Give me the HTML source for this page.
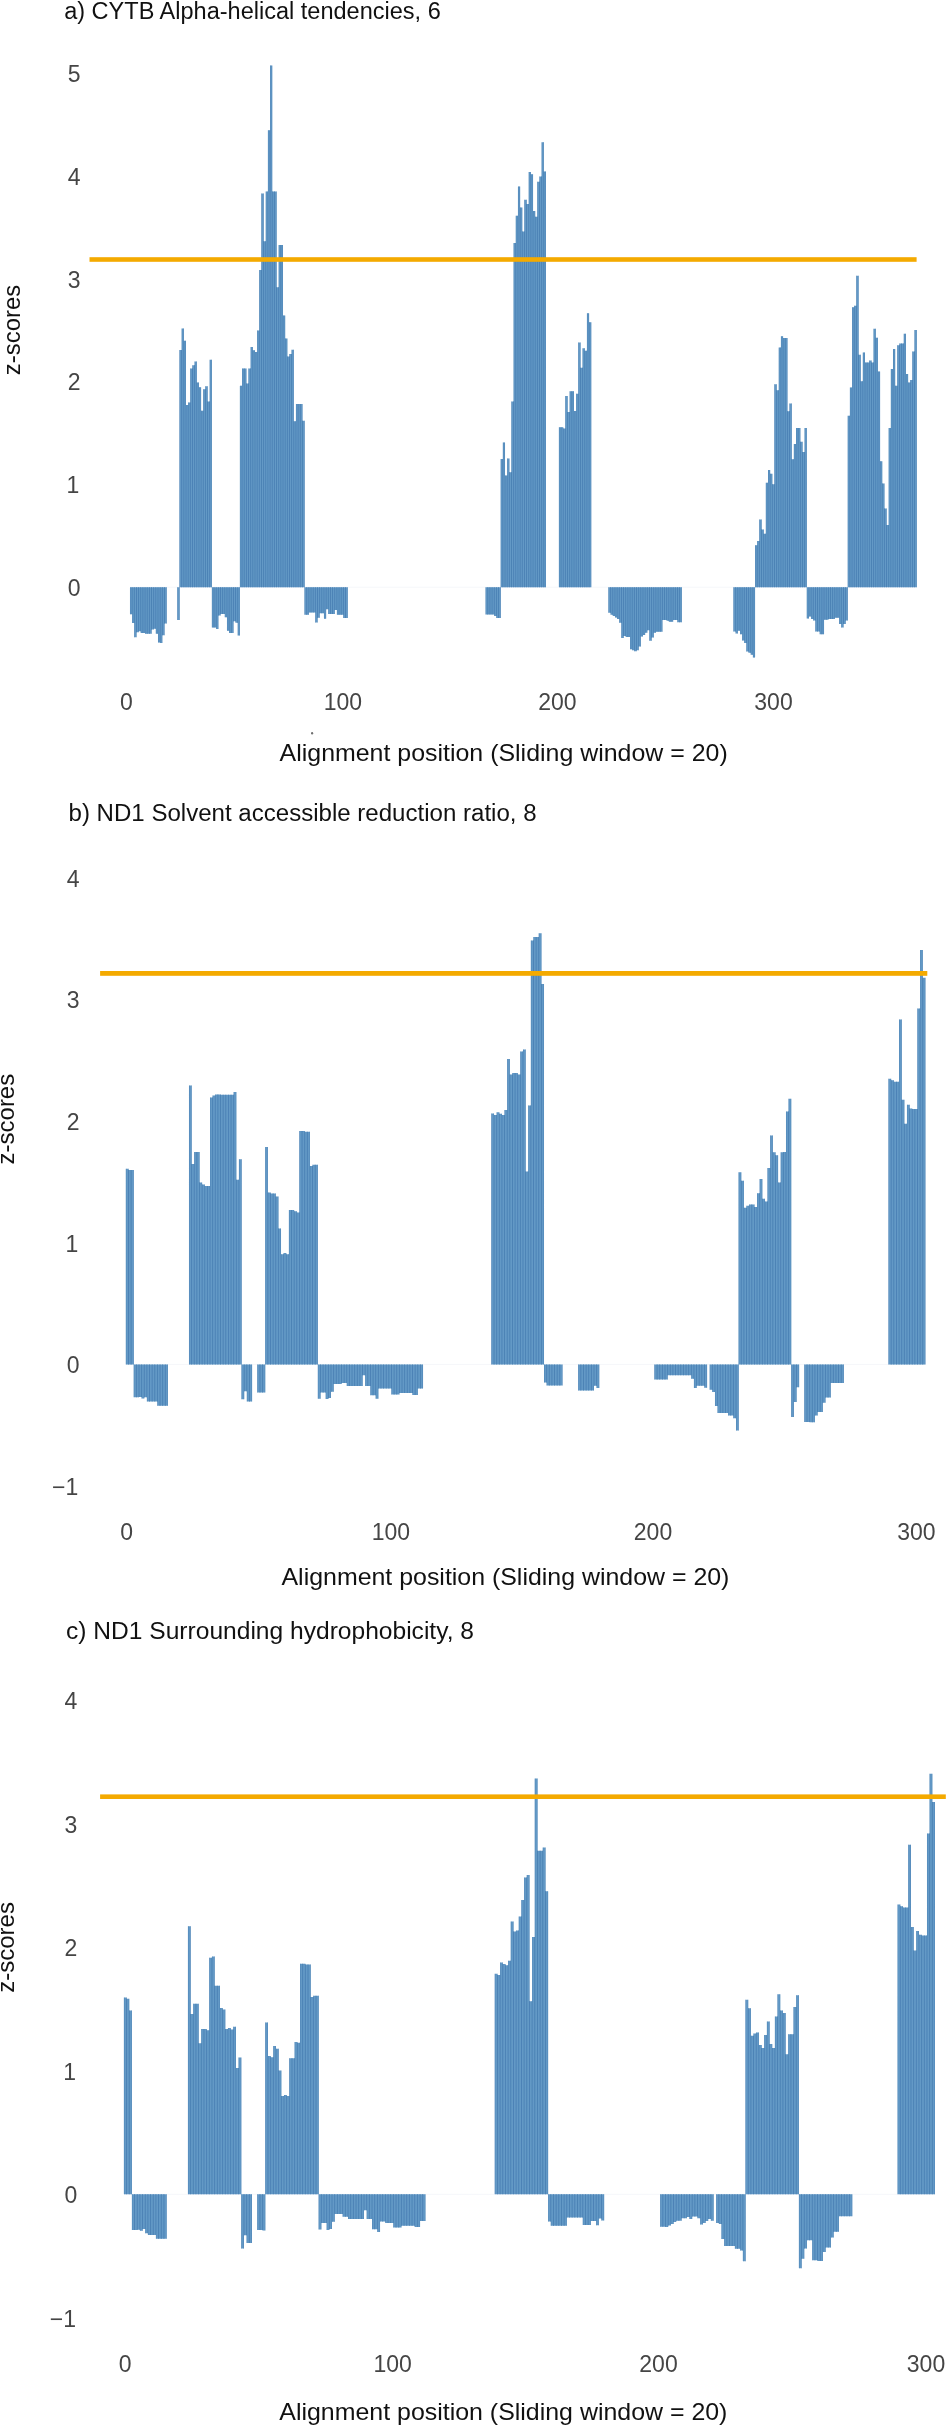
<!DOCTYPE html>
<html><head><meta charset="utf-8"><title>z-score sliding window charts</title>
<style>
html,body{margin:0;padding:0;background:#fff;}
body{width:947px;height:2428px;overflow:hidden;position:relative;}
svg{position:absolute;left:0;top:0;display:block;will-change:transform;}
text{font-family:"Liberation Sans",sans-serif;}
.t{fill:#111;}
.ax{fill:#111;}
.tk{fill:#454545;font-size:23px;}
.bar{fill:#5a90c0;}
</style></head><body>
<svg width="947" height="2428" viewBox="0 0 947 2428">
<defs><clipPath id="pa"><path d="M129.97 587.2V614.3H132.13V623H134.28V637.3H136.44V632.3H138.59V631.3H140.75V633H145.06V633.7H151.53V629.4H153.68V628.7H155.84V633.7H157.99V642.4H160.15V643.1H162.3V635.2H164.46V623.6H166.61V587.2ZM177.39 587.2V620H179.55V587.2ZM179.55 587.2V350H181.7V328.4H183.86V340.7H186.01V404.9H188.17V402.4H190.32V368.6H192.48V365.2H194.63V361.4H196.79V382.5H198.95V387.2H201.1V410.8H203.26V389.3H205.41V386.3H207.57V401.5H209.72V359.7H211.88V587.2ZM211.88 587.2V627.5H216.19V629.1H218.35V615.6H220.5V614.1H224.81V617.2H226.97V630.7H229.12V633.1H233.43V621.2H235.59V622.8H237.75V635.4H239.9V587.2ZM239.9 587.2V385.7H242.06V368.4H246.37V383.6H248.52V368.4H250.68V346.9H252.83V350.2H254.99V352H257.14V330.4H259.3V270H261.46V193.5H263.61V241.2H265.77V191.4H267.92V130.2H270.08V65.6H272.23V191.4H276.54V287.3H278.7V245H283.01V315.6H285.17V338.4H287.32V356.6H289.48V354H291.63V349.8H293.79V421.2H295.94V403.9H302.41V420.8H304.57V587.2ZM304.57 587.2V614.8H308.88V612.5H315.34V622.5H317.5V617.7H319.65V613.3H323.96V618.8H326.12V609.3H328.28V614.1H334.74V610.1H336.9V614.8H343.36V618H347.68V587.2ZM485.63 587.2V614.6H494.25V615.9H496.41V618.1H500.72V587.2ZM500.72 587.2V459H502.87V442.6H505.03V475.5H507.18V458.4H509.34V472.3H511.49V401.4H513.65V243.1H515.8V215.7H517.96V186.5H520.12V207.6H522.27V231.6H524.43V199.8H526.58V203.9H528.74V172.1H530.89V174.3H533.05V210.9H535.2V216.8H537.36V181.7H539.51V176.6H541.67V142.2H543.83V171.4H545.98V587.2ZM558.91 587.2V427.3H563.23V428.6H565.38V395.9H567.54V412.1H569.69V391.2H574V410.9H576.16V393.8H578.31V342.4H580.47V367.8H582.62V348.2H584.78V350.7H586.94V313.3H589.09V322.2H591.25V587.2ZM608.49 587.2V612.7H610.65V614.8H612.8V615.9H614.96V617.5H617.11V619.1H619.27V622.8H621.42V638.1H623.58V636H625.74V637H630.05V649.2H632.2V650.2H634.36V651.3H636.51V650.2H638.67V646.5H640.82V636.5H642.98V634.9H645.13V632.8H647.29V630.2H649.45V640.7H651.6V637.5H653.76V632.8H655.91V631.7H662.38V620.1H666.69V620.7H668.84V621.7H673.16V620.1H677.47V622.2H681.78V587.2ZM733.51 587.2V631.5H735.67V633.5H737.82V630.8H739.98V634.2H742.13V640.4H744.29V643.1H746.44V651.4H748.6V652.8H750.75V654.8H752.91V657.6H755.06V587.2ZM755.06 587.2V545.2H757.22V540.9H759.38V519.4H761.53V529.5H763.69V533.8H765.84V482.7H768V470H770.15V473.8H772.31V484.3H774.46V384.2H776.62V390.3H778.78V347.6H780.93V336.2H783.09V338.1H787.4V411.3H789.55V403.6H791.71V459.3H793.86V444.1H796.02V427.9H800.33V441.7H802.49V452.1H804.64V427.9H806.8V587.2ZM806.8 587.2V618.4H808.95V616.4H811.11V619.1H813.26V620.5H815.42V631.5H819.73V634.2H824.04V619.8H828.35V619.1H834.82V617.7H839.13V623.9H841.28V627.4H843.44V623.9H845.6V620.5H847.75V587.2ZM847.75 587.2V415.8H849.91V387.5H852.06V307.2H854.22V305.8H856.37V275.8H858.53V354.8H860.68V381.2H862.84V352.5H865V362.4H869.31V360.6H871.46V362.4H873.62V328.7H875.77V337.7H877.93V371.4H880.08V461.3H882.24V483.4H884.39V508.4H886.55V525H888.71V428H890.86V369.1H893.02V348.9H895.17V385.7H897.33V345.3H899.48V343.5H903.79V333.7H905.95V374.1H908.11V382.6H910.26V379.9H912.42V351.6H914.57V330.1H916.73V587.2Z"/></clipPath><clipPath id="pb"><path d="M125.85 1364.4V1168.8H128.48V1170H133.74V1364.4ZM133.74 1364.4V1397.2H139V1396.9H141.63V1398.6H144.26V1397.2H146.89V1401.5H157.41V1405.7H167.93V1364.4ZM188.97 1364.4V1085.4H191.6V1164H194.23V1152.1H199.49V1182.6H202.12V1184.6H204.75V1186H210.01V1097.5H212.64V1095.4H215.27V1094.4H220.53V1094.7H231.05V1094.7H233.68V1092H236.31V1179.8H238.94V1159.2H241.57V1364.4ZM241.57 1364.4V1399.3H244.2V1391.3H246.83V1401.5H252.09V1364.4ZM257.35 1364.4V1392.5H265.24V1364.4ZM265.24 1364.4V1147H267.87V1192.6H270.5V1193.5H275.76V1196.4H278.39V1228.5H281.02V1254.3H283.65V1253H286.28V1254.3H288.91V1210H294.17V1211.2H296.8V1212.5H299.43V1131H304.69V1131.8H309.95V1166H312.58V1164.8H317.84V1364.4ZM317.84 1364.4V1398.7H320.47V1392.4H325.73V1399.1H328.36V1398.1H330.99V1391.7H333.62V1383.9H341.51V1383.1H346.77V1386H362.55V1375.3H365.18V1386H370.44V1395.3H375.7V1398.7H378.33V1388.6H391.48V1394.5H399.37V1393H412.52V1394.9H417.78V1388.6H423.04V1364.4ZM491.42 1364.4V1113.4H494.05V1114.9H496.68V1112.3H499.31V1113.7H501.94V1114.9H504.57V1110H507.2V1059H509.83V1074.6H512.46V1073.1H517.72V1074.6H520.35V1051.6H522.98V1049.4H525.61V1171.6H528.24V1105.6H530.87V940.4H533.5V937.1H538.76V933.3H541.39V984.1H544.02V1364.4ZM544.02 1364.4V1382.4H546.65V1385.6H562.43V1364.4ZM578.21 1364.4V1390.6H593.99V1385.8H596.62V1387.9H599.25V1364.4ZM654.48 1364.4V1379.4H667.63V1375.3H691.3V1378.8H693.93V1387.9H696.56V1385.8H704.45V1387.8H707.08V1364.4ZM709.71 1364.4V1389.8H712.34V1391.9H714.97V1406.1H717.6V1413.1H728.12V1415.6H733.38V1418.3H736.01V1430.5H738.64V1364.4ZM738.64 1364.4V1172.2H741.27V1180.7H743.9V1207.7H746.53V1205.8H749.16V1204.4H754.42V1207H757.05V1193.3H759.68V1178.9H762.31V1198.8H764.94V1201.4H767.57V1168.1H770.2V1135.6H772.83V1152.3H775.46V1155.2H778.09V1182.6H780.72V1152.3H783.35V1151.9H785.98V1111.6H788.61V1098.7H791.24V1364.4ZM791.24 1364.4V1417.1H793.87V1401.9H796.5V1387.2H799.13V1364.4ZM804.39 1364.4V1421.9H809.65V1422.3H814.91V1415.6H817.54V1411.9H822.8V1402.7H825.43V1397.5H830.69V1383.1H843.84V1364.4ZM888.55 1364.4V1078.7H891.18V1080.2H893.81V1081.7H899.07V1019.4H901.7V1099.8H904.33V1123.8H906.96V1104.8H909.59V1108.5H912.22V1109.1H917.48V1008.6H920.11V950H922.74V977.8H925.37V1364.4Z"/></clipPath><clipPath id="pc"><path d="M123.91 2194.3V1997.6H126.58V1998.7H129.24V2010.4H131.91V2194.3ZM131.91 2194.3V2230H137.25V2229.8H139.92V2230.8H142.58V2229H145.25V2233.2H147.92V2234.9H155.92V2238.7H166.6V2194.3ZM187.94 2194.3V1926.2H190.61V2014H193.28V2003.8H198.61V2043.3H201.28V2028.9H206.62V2030.3H209.28V1957.8H211.95V1956.5H214.62V1985.7H219.96V2008H222.62V2009.4H225.29V2028.9H227.96V2028H230.63V2029.4H233.3V2026.8H235.96V2068H238.63V2057.6H241.3V2194.3ZM241.3 2194.3V2248.6H243.97V2235.3H246.64V2242.9H251.97V2194.3ZM257.31 2194.3V2230.1H262.64V2230.6H265.31V2194.3ZM265.31 2194.3V2022.4H267.98V2056.1H270.65V2057.2H273.32V2046.1H275.98V2048.7H278.65V2070.5H281.32V2096H283.99V2094.9H286.66V2096H289.32V2058.3H294.66V2042H297.33V2042.8H300V1963.7H305.33V1964.4H310.67V1996.9H313.34V1995.8H318.67V2194.3ZM318.67 2194.3V2229.6H321.34V2223H326.68V2230H329.34V2229.1H332.01V2221.7H334.68V2213.9H342.68V2216.7H348.02V2219H364.03V2210.3H366.7V2219H372.03V2229.3H377.37V2232.1H380.04V2221.5H385.37V2223H393.38V2227.4H401.38V2225.8H414.72V2227.1H420.06V2221.1H425.39V2194.3ZM494.76 2194.3V1973.8H497.43V1975H500.1V1962.4H502.76V1963.9H505.43V1965.2H508.1V1960.8H510.77V1921.5H513.44V1931.5H516.1V1930.5H518.77V1916.5H521.44V1900.1H524.11V1877.5H526.78V1874.9H529.44V2001.2H532.11V1937H534.78V1778.5H537.45V1850.8H542.78V1847.5H545.45V1891.2H548.12V2194.3ZM548.12 2194.3V2221.6H550.79V2225.8H566.8V2217.4H582.8V2225.1H590.81V2221H596.14V2225.3H598.81V2218.4H601.48V2220.5H604.15V2194.3ZM660.18 2194.3V2226.7H665.51V2227H668.18V2225.5H670.85V2224.1H673.52V2222H676.18V2220.7H681.52V2218.3H686.86V2216.9H689.52V2218.9H692.19V2216.6H697.53V2218.3H700.2V2224.4H702.86V2223H705.53V2220.9H708.2V2218.9H710.87V2220.7H713.54V2194.3ZM716.2 2194.3V2223H718.87V2224.1H721.54V2239H724.21V2246.1H734.88V2248.8H740.22V2250.6H742.88V2261.2H745.55V2194.3ZM745.55 2194.3V1999.7H748.22V2008.3H750.89V2035.7H753.56V2033.5H756.22V2032.4H758.89V2045H761.56V2047.9H764.23V2035H766.9V2021.6H769.56V2043.9H772.23V2047.9H774.9V2016.4H777.57V1994.2H780.24V2010.5H782.9V2013.1H785.57V2054.2H788.24V2034.2H793.58V2007.1H796.24V1995.3H798.91V2194.3ZM798.91 2194.3V2268.3H801.58V2258.7H804.25V2248.4H806.92V2240.2H812.25V2260.2H817.59V2260.9H822.92V2252.1H825.59V2247.6H830.93V2237.6H833.6V2231.7H838.93V2216.2H852.27V2194.3ZM897.63 2194.3V1904.6H900.3V1906.3H902.96V1907.4H908.3V1844.7H910.97V1927H913.64V1950.5H916.3V1931.1H918.97V1934.7H921.64V1935.4H926.98V1833.4H929.64V1773.8H932.31V1801.9H934.98V2194.3Z"/></clipPath></defs>
<text class="t" x="64.16" y="19.3" font-size="23.5" textLength="376.59" lengthAdjust="spacingAndGlyphs">a) CYTB Alpha-helical tendencies, 6</text>
<text class="tk" x="80.6" y="595.9" text-anchor="end">0</text>
<text class="tk" x="79.3" y="493.1" text-anchor="end">1</text>
<text class="tk" x="80.6" y="390.3" text-anchor="end">2</text>
<text class="tk" x="80.6" y="287.5" text-anchor="end">3</text>
<text class="tk" x="80.6" y="184.7" text-anchor="end">4</text>
<text class="tk" x="80.6" y="81.9" text-anchor="end">5</text>
<text class="tk" x="126.4" y="709.6" text-anchor="middle">0</text>
<text class="tk" x="342.9" y="709.6" text-anchor="middle">100</text>
<text class="tk" x="557.4" y="709.6" text-anchor="middle">200</text>
<text class="tk" x="773.5" y="709.6" text-anchor="middle">300</text>
<text class="ax" x="279.6" y="760.6" font-size="24" textLength="448.12" lengthAdjust="spacingAndGlyphs">Alignment position (Sliding window = 20)</text>
<text class="ax" font-size="24" transform="translate(20.1 375.16) rotate(-90)" textLength="90.37" lengthAdjust="spacingAndGlyphs">z-scores</text>
<rect x="130" y="586.7" width="786.7" height="1" fill="#f5f7fa"/>
<path fill="#6399c6" d="M129.97 587.2V614.3H132.13V623H134.28V637.3H136.44V632.3H138.59V631.3H140.75V633H145.06V633.7H151.53V629.4H153.68V628.7H155.84V633.7H157.99V642.4H160.15V643.1H162.3V635.2H164.46V623.6H166.61V587.2ZM177.39 587.2V620H179.55V587.2ZM179.55 587.2V350H181.7V328.4H183.86V340.7H186.01V404.9H188.17V402.4H190.32V368.6H192.48V365.2H194.63V361.4H196.79V382.5H198.95V387.2H201.1V410.8H203.26V389.3H205.41V386.3H207.57V401.5H209.72V359.7H211.88V587.2ZM211.88 587.2V627.5H216.19V629.1H218.35V615.6H220.5V614.1H224.81V617.2H226.97V630.7H229.12V633.1H233.43V621.2H235.59V622.8H237.75V635.4H239.9V587.2ZM239.9 587.2V385.7H242.06V368.4H246.37V383.6H248.52V368.4H250.68V346.9H252.83V350.2H254.99V352H257.14V330.4H259.3V270H261.46V193.5H263.61V241.2H265.77V191.4H267.92V130.2H270.08V65.6H272.23V191.4H276.54V287.3H278.7V245H283.01V315.6H285.17V338.4H287.32V356.6H289.48V354H291.63V349.8H293.79V421.2H295.94V403.9H302.41V420.8H304.57V587.2ZM304.57 587.2V614.8H308.88V612.5H315.34V622.5H317.5V617.7H319.65V613.3H323.96V618.8H326.12V609.3H328.28V614.1H334.74V610.1H336.9V614.8H343.36V618H347.68V587.2ZM485.63 587.2V614.6H494.25V615.9H496.41V618.1H500.72V587.2ZM500.72 587.2V459H502.87V442.6H505.03V475.5H507.18V458.4H509.34V472.3H511.49V401.4H513.65V243.1H515.8V215.7H517.96V186.5H520.12V207.6H522.27V231.6H524.43V199.8H526.58V203.9H528.74V172.1H530.89V174.3H533.05V210.9H535.2V216.8H537.36V181.7H539.51V176.6H541.67V142.2H543.83V171.4H545.98V587.2ZM558.91 587.2V427.3H563.23V428.6H565.38V395.9H567.54V412.1H569.69V391.2H574V410.9H576.16V393.8H578.31V342.4H580.47V367.8H582.62V348.2H584.78V350.7H586.94V313.3H589.09V322.2H591.25V587.2ZM608.49 587.2V612.7H610.65V614.8H612.8V615.9H614.96V617.5H617.11V619.1H619.27V622.8H621.42V638.1H623.58V636H625.74V637H630.05V649.2H632.2V650.2H634.36V651.3H636.51V650.2H638.67V646.5H640.82V636.5H642.98V634.9H645.13V632.8H647.29V630.2H649.45V640.7H651.6V637.5H653.76V632.8H655.91V631.7H662.38V620.1H666.69V620.7H668.84V621.7H673.16V620.1H677.47V622.2H681.78V587.2ZM733.51 587.2V631.5H735.67V633.5H737.82V630.8H739.98V634.2H742.13V640.4H744.29V643.1H746.44V651.4H748.6V652.8H750.75V654.8H752.91V657.6H755.06V587.2ZM755.06 587.2V545.2H757.22V540.9H759.38V519.4H761.53V529.5H763.69V533.8H765.84V482.7H768V470H770.15V473.8H772.31V484.3H774.46V384.2H776.62V390.3H778.78V347.6H780.93V336.2H783.09V338.1H787.4V411.3H789.55V403.6H791.71V459.3H793.86V444.1H796.02V427.9H800.33V441.7H802.49V452.1H804.64V427.9H806.8V587.2ZM806.8 587.2V618.4H808.95V616.4H811.11V619.1H813.26V620.5H815.42V631.5H819.73V634.2H824.04V619.8H828.35V619.1H834.82V617.7H839.13V623.9H841.28V627.4H843.44V623.9H845.6V620.5H847.75V587.2ZM847.75 587.2V415.8H849.91V387.5H852.06V307.2H854.22V305.8H856.37V275.8H858.53V354.8H860.68V381.2H862.84V352.5H865V362.4H869.31V360.6H871.46V362.4H873.62V328.7H875.77V337.7H877.93V371.4H880.08V461.3H882.24V483.4H884.39V508.4H886.55V525H888.71V428H890.86V369.1H893.02V348.9H895.17V385.7H897.33V345.3H899.48V343.5H903.79V333.7H905.95V374.1H908.11V382.6H910.26V379.9H912.42V351.6H914.57V330.1H916.73V587.2Z"/>
<path fill="#4a80b4" clip-path="url(#pa)" d="M129.52 63.6h0.9V659.6h-0.9ZM131.68 63.6h0.9V659.6h-0.9ZM133.83 63.6h0.9V659.6h-0.9ZM135.99 63.6h0.9V659.6h-0.9ZM138.14 63.6h0.9V659.6h-0.9ZM140.3 63.6h0.9V659.6h-0.9ZM142.45 63.6h0.9V659.6h-0.9ZM144.61 63.6h0.9V659.6h-0.9ZM146.76 63.6h0.9V659.6h-0.9ZM148.92 63.6h0.9V659.6h-0.9ZM151.08 63.6h0.9V659.6h-0.9ZM153.23 63.6h0.9V659.6h-0.9ZM155.39 63.6h0.9V659.6h-0.9ZM157.54 63.6h0.9V659.6h-0.9ZM159.7 63.6h0.9V659.6h-0.9ZM161.85 63.6h0.9V659.6h-0.9ZM164.01 63.6h0.9V659.6h-0.9ZM166.16 63.6h0.9V659.6h-0.9ZM168.32 63.6h0.9V659.6h-0.9ZM170.47 63.6h0.9V659.6h-0.9ZM172.63 63.6h0.9V659.6h-0.9ZM174.79 63.6h0.9V659.6h-0.9ZM176.94 63.6h0.9V659.6h-0.9ZM179.1 63.6h0.9V659.6h-0.9ZM181.25 63.6h0.9V659.6h-0.9ZM183.41 63.6h0.9V659.6h-0.9ZM185.56 63.6h0.9V659.6h-0.9ZM187.72 63.6h0.9V659.6h-0.9ZM189.87 63.6h0.9V659.6h-0.9ZM192.03 63.6h0.9V659.6h-0.9ZM194.19 63.6h0.9V659.6h-0.9ZM196.34 63.6h0.9V659.6h-0.9ZM198.5 63.6h0.9V659.6h-0.9ZM200.65 63.6h0.9V659.6h-0.9ZM202.81 63.6h0.9V659.6h-0.9ZM204.96 63.6h0.9V659.6h-0.9ZM207.12 63.6h0.9V659.6h-0.9ZM209.27 63.6h0.9V659.6h-0.9ZM211.43 63.6h0.9V659.6h-0.9ZM213.58 63.6h0.9V659.6h-0.9ZM215.74 63.6h0.9V659.6h-0.9ZM217.9 63.6h0.9V659.6h-0.9ZM220.05 63.6h0.9V659.6h-0.9ZM222.21 63.6h0.9V659.6h-0.9ZM224.36 63.6h0.9V659.6h-0.9ZM226.52 63.6h0.9V659.6h-0.9ZM228.67 63.6h0.9V659.6h-0.9ZM230.83 63.6h0.9V659.6h-0.9ZM232.98 63.6h0.9V659.6h-0.9ZM235.14 63.6h0.9V659.6h-0.9ZM237.3 63.6h0.9V659.6h-0.9ZM239.45 63.6h0.9V659.6h-0.9ZM241.61 63.6h0.9V659.6h-0.9ZM243.76 63.6h0.9V659.6h-0.9ZM245.92 63.6h0.9V659.6h-0.9ZM248.07 63.6h0.9V659.6h-0.9ZM250.23 63.6h0.9V659.6h-0.9ZM252.38 63.6h0.9V659.6h-0.9ZM254.54 63.6h0.9V659.6h-0.9ZM256.69 63.6h0.9V659.6h-0.9ZM258.85 63.6h0.9V659.6h-0.9ZM261.01 63.6h0.9V659.6h-0.9ZM263.16 63.6h0.9V659.6h-0.9ZM265.32 63.6h0.9V659.6h-0.9ZM267.47 63.6h0.9V659.6h-0.9ZM269.63 63.6h0.9V659.6h-0.9ZM271.78 63.6h0.9V659.6h-0.9ZM273.94 63.6h0.9V659.6h-0.9ZM276.09 63.6h0.9V659.6h-0.9ZM278.25 63.6h0.9V659.6h-0.9ZM280.41 63.6h0.9V659.6h-0.9ZM282.56 63.6h0.9V659.6h-0.9ZM284.72 63.6h0.9V659.6h-0.9ZM286.87 63.6h0.9V659.6h-0.9ZM289.03 63.6h0.9V659.6h-0.9ZM291.18 63.6h0.9V659.6h-0.9ZM293.34 63.6h0.9V659.6h-0.9ZM295.49 63.6h0.9V659.6h-0.9ZM297.65 63.6h0.9V659.6h-0.9ZM299.8 63.6h0.9V659.6h-0.9ZM301.96 63.6h0.9V659.6h-0.9ZM304.12 63.6h0.9V659.6h-0.9ZM306.27 63.6h0.9V659.6h-0.9ZM308.43 63.6h0.9V659.6h-0.9ZM310.58 63.6h0.9V659.6h-0.9ZM312.74 63.6h0.9V659.6h-0.9ZM314.89 63.6h0.9V659.6h-0.9ZM317.05 63.6h0.9V659.6h-0.9ZM319.2 63.6h0.9V659.6h-0.9ZM321.36 63.6h0.9V659.6h-0.9ZM323.51 63.6h0.9V659.6h-0.9ZM325.67 63.6h0.9V659.6h-0.9ZM327.83 63.6h0.9V659.6h-0.9ZM329.98 63.6h0.9V659.6h-0.9ZM332.14 63.6h0.9V659.6h-0.9ZM334.29 63.6h0.9V659.6h-0.9ZM336.45 63.6h0.9V659.6h-0.9ZM338.6 63.6h0.9V659.6h-0.9ZM340.76 63.6h0.9V659.6h-0.9ZM342.91 63.6h0.9V659.6h-0.9ZM345.07 63.6h0.9V659.6h-0.9ZM347.23 63.6h0.9V659.6h-0.9ZM349.38 63.6h0.9V659.6h-0.9ZM351.54 63.6h0.9V659.6h-0.9ZM353.69 63.6h0.9V659.6h-0.9ZM355.85 63.6h0.9V659.6h-0.9ZM358 63.6h0.9V659.6h-0.9ZM360.16 63.6h0.9V659.6h-0.9ZM362.31 63.6h0.9V659.6h-0.9ZM364.47 63.6h0.9V659.6h-0.9ZM366.62 63.6h0.9V659.6h-0.9ZM368.78 63.6h0.9V659.6h-0.9ZM370.94 63.6h0.9V659.6h-0.9ZM373.09 63.6h0.9V659.6h-0.9ZM375.25 63.6h0.9V659.6h-0.9ZM377.4 63.6h0.9V659.6h-0.9ZM379.56 63.6h0.9V659.6h-0.9ZM381.71 63.6h0.9V659.6h-0.9ZM383.87 63.6h0.9V659.6h-0.9ZM386.02 63.6h0.9V659.6h-0.9ZM388.18 63.6h0.9V659.6h-0.9ZM390.34 63.6h0.9V659.6h-0.9ZM392.49 63.6h0.9V659.6h-0.9ZM394.65 63.6h0.9V659.6h-0.9ZM396.8 63.6h0.9V659.6h-0.9ZM398.96 63.6h0.9V659.6h-0.9ZM401.11 63.6h0.9V659.6h-0.9ZM403.27 63.6h0.9V659.6h-0.9ZM405.42 63.6h0.9V659.6h-0.9ZM407.58 63.6h0.9V659.6h-0.9ZM409.74 63.6h0.9V659.6h-0.9ZM411.89 63.6h0.9V659.6h-0.9ZM414.05 63.6h0.9V659.6h-0.9ZM416.2 63.6h0.9V659.6h-0.9ZM418.36 63.6h0.9V659.6h-0.9ZM420.51 63.6h0.9V659.6h-0.9ZM422.67 63.6h0.9V659.6h-0.9ZM424.82 63.6h0.9V659.6h-0.9ZM426.98 63.6h0.9V659.6h-0.9ZM429.13 63.6h0.9V659.6h-0.9ZM431.29 63.6h0.9V659.6h-0.9ZM433.45 63.6h0.9V659.6h-0.9ZM435.6 63.6h0.9V659.6h-0.9ZM437.76 63.6h0.9V659.6h-0.9ZM439.91 63.6h0.9V659.6h-0.9ZM442.07 63.6h0.9V659.6h-0.9ZM444.22 63.6h0.9V659.6h-0.9ZM446.38 63.6h0.9V659.6h-0.9ZM448.53 63.6h0.9V659.6h-0.9ZM450.69 63.6h0.9V659.6h-0.9ZM452.85 63.6h0.9V659.6h-0.9ZM455 63.6h0.9V659.6h-0.9ZM457.16 63.6h0.9V659.6h-0.9ZM459.31 63.6h0.9V659.6h-0.9ZM461.47 63.6h0.9V659.6h-0.9ZM463.62 63.6h0.9V659.6h-0.9ZM465.78 63.6h0.9V659.6h-0.9ZM467.93 63.6h0.9V659.6h-0.9ZM470.09 63.6h0.9V659.6h-0.9ZM472.24 63.6h0.9V659.6h-0.9ZM474.4 63.6h0.9V659.6h-0.9ZM476.56 63.6h0.9V659.6h-0.9ZM478.71 63.6h0.9V659.6h-0.9ZM480.87 63.6h0.9V659.6h-0.9ZM483.02 63.6h0.9V659.6h-0.9ZM485.18 63.6h0.9V659.6h-0.9ZM487.33 63.6h0.9V659.6h-0.9ZM489.49 63.6h0.9V659.6h-0.9ZM491.64 63.6h0.9V659.6h-0.9ZM493.8 63.6h0.9V659.6h-0.9ZM495.96 63.6h0.9V659.6h-0.9ZM498.11 63.6h0.9V659.6h-0.9ZM500.27 63.6h0.9V659.6h-0.9ZM502.42 63.6h0.9V659.6h-0.9ZM504.58 63.6h0.9V659.6h-0.9ZM506.73 63.6h0.9V659.6h-0.9ZM508.89 63.6h0.9V659.6h-0.9ZM511.04 63.6h0.9V659.6h-0.9ZM513.2 63.6h0.9V659.6h-0.9ZM515.35 63.6h0.9V659.6h-0.9ZM517.51 63.6h0.9V659.6h-0.9ZM519.67 63.6h0.9V659.6h-0.9ZM521.82 63.6h0.9V659.6h-0.9ZM523.98 63.6h0.9V659.6h-0.9ZM526.13 63.6h0.9V659.6h-0.9ZM528.29 63.6h0.9V659.6h-0.9ZM530.44 63.6h0.9V659.6h-0.9ZM532.6 63.6h0.9V659.6h-0.9ZM534.75 63.6h0.9V659.6h-0.9ZM536.91 63.6h0.9V659.6h-0.9ZM539.06 63.6h0.9V659.6h-0.9ZM541.22 63.6h0.9V659.6h-0.9ZM543.38 63.6h0.9V659.6h-0.9ZM545.53 63.6h0.9V659.6h-0.9ZM547.69 63.6h0.9V659.6h-0.9ZM549.84 63.6h0.9V659.6h-0.9ZM552 63.6h0.9V659.6h-0.9ZM554.15 63.6h0.9V659.6h-0.9ZM556.31 63.6h0.9V659.6h-0.9ZM558.46 63.6h0.9V659.6h-0.9ZM560.62 63.6h0.9V659.6h-0.9ZM562.78 63.6h0.9V659.6h-0.9ZM564.93 63.6h0.9V659.6h-0.9ZM567.09 63.6h0.9V659.6h-0.9ZM569.24 63.6h0.9V659.6h-0.9ZM571.4 63.6h0.9V659.6h-0.9ZM573.55 63.6h0.9V659.6h-0.9ZM575.71 63.6h0.9V659.6h-0.9ZM577.86 63.6h0.9V659.6h-0.9ZM580.02 63.6h0.9V659.6h-0.9ZM582.17 63.6h0.9V659.6h-0.9ZM584.33 63.6h0.9V659.6h-0.9ZM586.49 63.6h0.9V659.6h-0.9ZM588.64 63.6h0.9V659.6h-0.9ZM590.8 63.6h0.9V659.6h-0.9ZM592.95 63.6h0.9V659.6h-0.9ZM595.11 63.6h0.9V659.6h-0.9ZM597.26 63.6h0.9V659.6h-0.9ZM599.42 63.6h0.9V659.6h-0.9ZM601.57 63.6h0.9V659.6h-0.9ZM603.73 63.6h0.9V659.6h-0.9ZM605.89 63.6h0.9V659.6h-0.9ZM608.04 63.6h0.9V659.6h-0.9ZM610.2 63.6h0.9V659.6h-0.9ZM612.35 63.6h0.9V659.6h-0.9ZM614.51 63.6h0.9V659.6h-0.9ZM616.66 63.6h0.9V659.6h-0.9ZM618.82 63.6h0.9V659.6h-0.9ZM620.97 63.6h0.9V659.6h-0.9ZM623.13 63.6h0.9V659.6h-0.9ZM625.28 63.6h0.9V659.6h-0.9ZM627.44 63.6h0.9V659.6h-0.9ZM629.6 63.6h0.9V659.6h-0.9ZM631.75 63.6h0.9V659.6h-0.9ZM633.91 63.6h0.9V659.6h-0.9ZM636.06 63.6h0.9V659.6h-0.9ZM638.22 63.6h0.9V659.6h-0.9ZM640.37 63.6h0.9V659.6h-0.9ZM642.53 63.6h0.9V659.6h-0.9ZM644.68 63.6h0.9V659.6h-0.9ZM646.84 63.6h0.9V659.6h-0.9ZM649 63.6h0.9V659.6h-0.9ZM651.15 63.6h0.9V659.6h-0.9ZM653.31 63.6h0.9V659.6h-0.9ZM655.46 63.6h0.9V659.6h-0.9ZM657.62 63.6h0.9V659.6h-0.9ZM659.77 63.6h0.9V659.6h-0.9ZM661.93 63.6h0.9V659.6h-0.9ZM664.08 63.6h0.9V659.6h-0.9ZM666.24 63.6h0.9V659.6h-0.9ZM668.39 63.6h0.9V659.6h-0.9ZM670.55 63.6h0.9V659.6h-0.9ZM672.71 63.6h0.9V659.6h-0.9ZM674.86 63.6h0.9V659.6h-0.9ZM677.02 63.6h0.9V659.6h-0.9ZM679.17 63.6h0.9V659.6h-0.9ZM681.33 63.6h0.9V659.6h-0.9ZM683.48 63.6h0.9V659.6h-0.9ZM685.64 63.6h0.9V659.6h-0.9ZM687.79 63.6h0.9V659.6h-0.9ZM689.95 63.6h0.9V659.6h-0.9ZM692.11 63.6h0.9V659.6h-0.9ZM694.26 63.6h0.9V659.6h-0.9ZM696.42 63.6h0.9V659.6h-0.9ZM698.57 63.6h0.9V659.6h-0.9ZM700.73 63.6h0.9V659.6h-0.9ZM702.88 63.6h0.9V659.6h-0.9ZM705.04 63.6h0.9V659.6h-0.9ZM707.19 63.6h0.9V659.6h-0.9ZM709.35 63.6h0.9V659.6h-0.9ZM711.5 63.6h0.9V659.6h-0.9ZM713.66 63.6h0.9V659.6h-0.9ZM715.82 63.6h0.9V659.6h-0.9ZM717.97 63.6h0.9V659.6h-0.9ZM720.13 63.6h0.9V659.6h-0.9ZM722.28 63.6h0.9V659.6h-0.9ZM724.44 63.6h0.9V659.6h-0.9ZM726.59 63.6h0.9V659.6h-0.9ZM728.75 63.6h0.9V659.6h-0.9ZM730.9 63.6h0.9V659.6h-0.9ZM733.06 63.6h0.9V659.6h-0.9ZM735.22 63.6h0.9V659.6h-0.9ZM737.37 63.6h0.9V659.6h-0.9ZM739.53 63.6h0.9V659.6h-0.9ZM741.68 63.6h0.9V659.6h-0.9ZM743.84 63.6h0.9V659.6h-0.9ZM745.99 63.6h0.9V659.6h-0.9ZM748.15 63.6h0.9V659.6h-0.9ZM750.3 63.6h0.9V659.6h-0.9ZM752.46 63.6h0.9V659.6h-0.9ZM754.61 63.6h0.9V659.6h-0.9ZM756.77 63.6h0.9V659.6h-0.9ZM758.93 63.6h0.9V659.6h-0.9ZM761.08 63.6h0.9V659.6h-0.9ZM763.24 63.6h0.9V659.6h-0.9ZM765.39 63.6h0.9V659.6h-0.9ZM767.55 63.6h0.9V659.6h-0.9ZM769.7 63.6h0.9V659.6h-0.9ZM771.86 63.6h0.9V659.6h-0.9ZM774.01 63.6h0.9V659.6h-0.9ZM776.17 63.6h0.9V659.6h-0.9ZM778.33 63.6h0.9V659.6h-0.9ZM780.48 63.6h0.9V659.6h-0.9ZM782.64 63.6h0.9V659.6h-0.9ZM784.79 63.6h0.9V659.6h-0.9ZM786.95 63.6h0.9V659.6h-0.9ZM789.1 63.6h0.9V659.6h-0.9ZM791.26 63.6h0.9V659.6h-0.9ZM793.41 63.6h0.9V659.6h-0.9ZM795.57 63.6h0.9V659.6h-0.9ZM797.72 63.6h0.9V659.6h-0.9ZM799.88 63.6h0.9V659.6h-0.9ZM802.04 63.6h0.9V659.6h-0.9ZM804.19 63.6h0.9V659.6h-0.9ZM806.35 63.6h0.9V659.6h-0.9ZM808.5 63.6h0.9V659.6h-0.9ZM810.66 63.6h0.9V659.6h-0.9ZM812.81 63.6h0.9V659.6h-0.9ZM814.97 63.6h0.9V659.6h-0.9ZM817.12 63.6h0.9V659.6h-0.9ZM819.28 63.6h0.9V659.6h-0.9ZM821.44 63.6h0.9V659.6h-0.9ZM823.59 63.6h0.9V659.6h-0.9ZM825.75 63.6h0.9V659.6h-0.9ZM827.9 63.6h0.9V659.6h-0.9ZM830.06 63.6h0.9V659.6h-0.9ZM832.21 63.6h0.9V659.6h-0.9ZM834.37 63.6h0.9V659.6h-0.9ZM836.52 63.6h0.9V659.6h-0.9ZM838.68 63.6h0.9V659.6h-0.9ZM840.83 63.6h0.9V659.6h-0.9ZM842.99 63.6h0.9V659.6h-0.9ZM845.15 63.6h0.9V659.6h-0.9ZM847.3 63.6h0.9V659.6h-0.9ZM849.46 63.6h0.9V659.6h-0.9ZM851.61 63.6h0.9V659.6h-0.9ZM853.77 63.6h0.9V659.6h-0.9ZM855.92 63.6h0.9V659.6h-0.9ZM858.08 63.6h0.9V659.6h-0.9ZM860.23 63.6h0.9V659.6h-0.9ZM862.39 63.6h0.9V659.6h-0.9ZM864.55 63.6h0.9V659.6h-0.9ZM866.7 63.6h0.9V659.6h-0.9ZM868.86 63.6h0.9V659.6h-0.9ZM871.01 63.6h0.9V659.6h-0.9ZM873.17 63.6h0.9V659.6h-0.9ZM875.32 63.6h0.9V659.6h-0.9ZM877.48 63.6h0.9V659.6h-0.9ZM879.63 63.6h0.9V659.6h-0.9ZM881.79 63.6h0.9V659.6h-0.9ZM883.94 63.6h0.9V659.6h-0.9ZM886.1 63.6h0.9V659.6h-0.9ZM888.26 63.6h0.9V659.6h-0.9ZM890.41 63.6h0.9V659.6h-0.9ZM892.57 63.6h0.9V659.6h-0.9ZM894.72 63.6h0.9V659.6h-0.9ZM896.88 63.6h0.9V659.6h-0.9ZM899.03 63.6h0.9V659.6h-0.9ZM901.19 63.6h0.9V659.6h-0.9ZM903.34 63.6h0.9V659.6h-0.9ZM905.5 63.6h0.9V659.6h-0.9ZM907.66 63.6h0.9V659.6h-0.9ZM909.81 63.6h0.9V659.6h-0.9ZM911.97 63.6h0.9V659.6h-0.9ZM914.12 63.6h0.9V659.6h-0.9ZM916.28 63.6h0.9V659.6h-0.9Z"/>
<rect x="89.5" y="257.2" width="827.1" height="4.6" fill="#f4aa00"/>
<text class="t" x="68.51" y="821.2" font-size="23.5" textLength="468.06" lengthAdjust="spacingAndGlyphs">b) ND1 Solvent accessible reduction ratio, 8</text>
<text class="tk" x="78.2" y="1494.65" text-anchor="end">−1</text>
<text class="tk" x="79.5" y="1373.1" text-anchor="end">0</text>
<text class="tk" x="78.2" y="1251.55" text-anchor="end">1</text>
<text class="tk" x="79.5" y="1130" text-anchor="end">2</text>
<text class="tk" x="79.5" y="1008.45" text-anchor="end">3</text>
<text class="tk" x="79.5" y="886.9" text-anchor="end">4</text>
<text class="tk" x="126.7" y="1539.6" text-anchor="middle">0</text>
<text class="tk" x="390.9" y="1539.6" text-anchor="middle">100</text>
<text class="tk" x="653" y="1539.6" text-anchor="middle">200</text>
<text class="tk" x="916.4" y="1539.6" text-anchor="middle">300</text>
<text class="ax" x="281.5" y="1585.2" font-size="24" textLength="447.92" lengthAdjust="spacingAndGlyphs">Alignment position (Sliding window = 20)</text>
<text class="ax" font-size="24" transform="translate(14.3 1164.46) rotate(-90)" textLength="90.68" lengthAdjust="spacingAndGlyphs">z-scores</text>
<rect x="126.3" y="1363.9" width="798.9" height="1" fill="#f5f7fa"/>
<path fill="#6399c6" d="M125.85 1364.4V1168.8H128.48V1170H133.74V1364.4ZM133.74 1364.4V1397.2H139V1396.9H141.63V1398.6H144.26V1397.2H146.89V1401.5H157.41V1405.7H167.93V1364.4ZM188.97 1364.4V1085.4H191.6V1164H194.23V1152.1H199.49V1182.6H202.12V1184.6H204.75V1186H210.01V1097.5H212.64V1095.4H215.27V1094.4H220.53V1094.7H231.05V1094.7H233.68V1092H236.31V1179.8H238.94V1159.2H241.57V1364.4ZM241.57 1364.4V1399.3H244.2V1391.3H246.83V1401.5H252.09V1364.4ZM257.35 1364.4V1392.5H265.24V1364.4ZM265.24 1364.4V1147H267.87V1192.6H270.5V1193.5H275.76V1196.4H278.39V1228.5H281.02V1254.3H283.65V1253H286.28V1254.3H288.91V1210H294.17V1211.2H296.8V1212.5H299.43V1131H304.69V1131.8H309.95V1166H312.58V1164.8H317.84V1364.4ZM317.84 1364.4V1398.7H320.47V1392.4H325.73V1399.1H328.36V1398.1H330.99V1391.7H333.62V1383.9H341.51V1383.1H346.77V1386H362.55V1375.3H365.18V1386H370.44V1395.3H375.7V1398.7H378.33V1388.6H391.48V1394.5H399.37V1393H412.52V1394.9H417.78V1388.6H423.04V1364.4ZM491.42 1364.4V1113.4H494.05V1114.9H496.68V1112.3H499.31V1113.7H501.94V1114.9H504.57V1110H507.2V1059H509.83V1074.6H512.46V1073.1H517.72V1074.6H520.35V1051.6H522.98V1049.4H525.61V1171.6H528.24V1105.6H530.87V940.4H533.5V937.1H538.76V933.3H541.39V984.1H544.02V1364.4ZM544.02 1364.4V1382.4H546.65V1385.6H562.43V1364.4ZM578.21 1364.4V1390.6H593.99V1385.8H596.62V1387.9H599.25V1364.4ZM654.48 1364.4V1379.4H667.63V1375.3H691.3V1378.8H693.93V1387.9H696.56V1385.8H704.45V1387.8H707.08V1364.4ZM709.71 1364.4V1389.8H712.34V1391.9H714.97V1406.1H717.6V1413.1H728.12V1415.6H733.38V1418.3H736.01V1430.5H738.64V1364.4ZM738.64 1364.4V1172.2H741.27V1180.7H743.9V1207.7H746.53V1205.8H749.16V1204.4H754.42V1207H757.05V1193.3H759.68V1178.9H762.31V1198.8H764.94V1201.4H767.57V1168.1H770.2V1135.6H772.83V1152.3H775.46V1155.2H778.09V1182.6H780.72V1152.3H783.35V1151.9H785.98V1111.6H788.61V1098.7H791.24V1364.4ZM791.24 1364.4V1417.1H793.87V1401.9H796.5V1387.2H799.13V1364.4ZM804.39 1364.4V1421.9H809.65V1422.3H814.91V1415.6H817.54V1411.9H822.8V1402.7H825.43V1397.5H830.69V1383.1H843.84V1364.4ZM888.55 1364.4V1078.7H891.18V1080.2H893.81V1081.7H899.07V1019.4H901.7V1099.8H904.33V1123.8H906.96V1104.8H909.59V1108.5H912.22V1109.1H917.48V1008.6H920.11V950H922.74V977.8H925.37V1364.4Z"/>
<path fill="#4a80b4" clip-path="url(#pb)" d="M125.4 931.3h0.9V1432.5h-0.9ZM128.03 931.3h0.9V1432.5h-0.9ZM130.66 931.3h0.9V1432.5h-0.9ZM133.29 931.3h0.9V1432.5h-0.9ZM135.92 931.3h0.9V1432.5h-0.9ZM138.55 931.3h0.9V1432.5h-0.9ZM141.18 931.3h0.9V1432.5h-0.9ZM143.81 931.3h0.9V1432.5h-0.9ZM146.44 931.3h0.9V1432.5h-0.9ZM149.07 931.3h0.9V1432.5h-0.9ZM151.7 931.3h0.9V1432.5h-0.9ZM154.33 931.3h0.9V1432.5h-0.9ZM156.96 931.3h0.9V1432.5h-0.9ZM159.59 931.3h0.9V1432.5h-0.9ZM162.22 931.3h0.9V1432.5h-0.9ZM164.85 931.3h0.9V1432.5h-0.9ZM167.48 931.3h0.9V1432.5h-0.9ZM170.11 931.3h0.9V1432.5h-0.9ZM172.74 931.3h0.9V1432.5h-0.9ZM175.37 931.3h0.9V1432.5h-0.9ZM178 931.3h0.9V1432.5h-0.9ZM180.63 931.3h0.9V1432.5h-0.9ZM183.26 931.3h0.9V1432.5h-0.9ZM185.89 931.3h0.9V1432.5h-0.9ZM188.52 931.3h0.9V1432.5h-0.9ZM191.15 931.3h0.9V1432.5h-0.9ZM193.78 931.3h0.9V1432.5h-0.9ZM196.41 931.3h0.9V1432.5h-0.9ZM199.04 931.3h0.9V1432.5h-0.9ZM201.67 931.3h0.9V1432.5h-0.9ZM204.3 931.3h0.9V1432.5h-0.9ZM206.93 931.3h0.9V1432.5h-0.9ZM209.56 931.3h0.9V1432.5h-0.9ZM212.19 931.3h0.9V1432.5h-0.9ZM214.82 931.3h0.9V1432.5h-0.9ZM217.45 931.3h0.9V1432.5h-0.9ZM220.08 931.3h0.9V1432.5h-0.9ZM222.71 931.3h0.9V1432.5h-0.9ZM225.34 931.3h0.9V1432.5h-0.9ZM227.97 931.3h0.9V1432.5h-0.9ZM230.6 931.3h0.9V1432.5h-0.9ZM233.23 931.3h0.9V1432.5h-0.9ZM235.86 931.3h0.9V1432.5h-0.9ZM238.49 931.3h0.9V1432.5h-0.9ZM241.12 931.3h0.9V1432.5h-0.9ZM243.75 931.3h0.9V1432.5h-0.9ZM246.38 931.3h0.9V1432.5h-0.9ZM249.01 931.3h0.9V1432.5h-0.9ZM251.64 931.3h0.9V1432.5h-0.9ZM254.27 931.3h0.9V1432.5h-0.9ZM256.9 931.3h0.9V1432.5h-0.9ZM259.53 931.3h0.9V1432.5h-0.9ZM262.16 931.3h0.9V1432.5h-0.9ZM264.79 931.3h0.9V1432.5h-0.9ZM267.42 931.3h0.9V1432.5h-0.9ZM270.05 931.3h0.9V1432.5h-0.9ZM272.68 931.3h0.9V1432.5h-0.9ZM275.31 931.3h0.9V1432.5h-0.9ZM277.94 931.3h0.9V1432.5h-0.9ZM280.57 931.3h0.9V1432.5h-0.9ZM283.2 931.3h0.9V1432.5h-0.9ZM285.83 931.3h0.9V1432.5h-0.9ZM288.46 931.3h0.9V1432.5h-0.9ZM291.09 931.3h0.9V1432.5h-0.9ZM293.72 931.3h0.9V1432.5h-0.9ZM296.35 931.3h0.9V1432.5h-0.9ZM298.98 931.3h0.9V1432.5h-0.9ZM301.61 931.3h0.9V1432.5h-0.9ZM304.24 931.3h0.9V1432.5h-0.9ZM306.87 931.3h0.9V1432.5h-0.9ZM309.5 931.3h0.9V1432.5h-0.9ZM312.13 931.3h0.9V1432.5h-0.9ZM314.76 931.3h0.9V1432.5h-0.9ZM317.39 931.3h0.9V1432.5h-0.9ZM320.02 931.3h0.9V1432.5h-0.9ZM322.65 931.3h0.9V1432.5h-0.9ZM325.28 931.3h0.9V1432.5h-0.9ZM327.91 931.3h0.9V1432.5h-0.9ZM330.54 931.3h0.9V1432.5h-0.9ZM333.17 931.3h0.9V1432.5h-0.9ZM335.8 931.3h0.9V1432.5h-0.9ZM338.43 931.3h0.9V1432.5h-0.9ZM341.06 931.3h0.9V1432.5h-0.9ZM343.69 931.3h0.9V1432.5h-0.9ZM346.32 931.3h0.9V1432.5h-0.9ZM348.95 931.3h0.9V1432.5h-0.9ZM351.58 931.3h0.9V1432.5h-0.9ZM354.21 931.3h0.9V1432.5h-0.9ZM356.84 931.3h0.9V1432.5h-0.9ZM359.47 931.3h0.9V1432.5h-0.9ZM362.1 931.3h0.9V1432.5h-0.9ZM364.73 931.3h0.9V1432.5h-0.9ZM367.36 931.3h0.9V1432.5h-0.9ZM369.99 931.3h0.9V1432.5h-0.9ZM372.62 931.3h0.9V1432.5h-0.9ZM375.25 931.3h0.9V1432.5h-0.9ZM377.88 931.3h0.9V1432.5h-0.9ZM380.51 931.3h0.9V1432.5h-0.9ZM383.14 931.3h0.9V1432.5h-0.9ZM385.77 931.3h0.9V1432.5h-0.9ZM388.4 931.3h0.9V1432.5h-0.9ZM391.03 931.3h0.9V1432.5h-0.9ZM393.66 931.3h0.9V1432.5h-0.9ZM396.29 931.3h0.9V1432.5h-0.9ZM398.92 931.3h0.9V1432.5h-0.9ZM401.55 931.3h0.9V1432.5h-0.9ZM404.18 931.3h0.9V1432.5h-0.9ZM406.81 931.3h0.9V1432.5h-0.9ZM409.44 931.3h0.9V1432.5h-0.9ZM412.07 931.3h0.9V1432.5h-0.9ZM414.7 931.3h0.9V1432.5h-0.9ZM417.33 931.3h0.9V1432.5h-0.9ZM419.96 931.3h0.9V1432.5h-0.9ZM422.59 931.3h0.9V1432.5h-0.9ZM425.22 931.3h0.9V1432.5h-0.9ZM427.85 931.3h0.9V1432.5h-0.9ZM430.48 931.3h0.9V1432.5h-0.9ZM433.11 931.3h0.9V1432.5h-0.9ZM435.74 931.3h0.9V1432.5h-0.9ZM438.37 931.3h0.9V1432.5h-0.9ZM441 931.3h0.9V1432.5h-0.9ZM443.63 931.3h0.9V1432.5h-0.9ZM446.26 931.3h0.9V1432.5h-0.9ZM448.89 931.3h0.9V1432.5h-0.9ZM451.52 931.3h0.9V1432.5h-0.9ZM454.15 931.3h0.9V1432.5h-0.9ZM456.78 931.3h0.9V1432.5h-0.9ZM459.41 931.3h0.9V1432.5h-0.9ZM462.04 931.3h0.9V1432.5h-0.9ZM464.67 931.3h0.9V1432.5h-0.9ZM467.3 931.3h0.9V1432.5h-0.9ZM469.93 931.3h0.9V1432.5h-0.9ZM472.56 931.3h0.9V1432.5h-0.9ZM475.19 931.3h0.9V1432.5h-0.9ZM477.82 931.3h0.9V1432.5h-0.9ZM480.45 931.3h0.9V1432.5h-0.9ZM483.08 931.3h0.9V1432.5h-0.9ZM485.71 931.3h0.9V1432.5h-0.9ZM488.34 931.3h0.9V1432.5h-0.9ZM490.97 931.3h0.9V1432.5h-0.9ZM493.6 931.3h0.9V1432.5h-0.9ZM496.23 931.3h0.9V1432.5h-0.9ZM498.86 931.3h0.9V1432.5h-0.9ZM501.49 931.3h0.9V1432.5h-0.9ZM504.12 931.3h0.9V1432.5h-0.9ZM506.75 931.3h0.9V1432.5h-0.9ZM509.38 931.3h0.9V1432.5h-0.9ZM512.01 931.3h0.9V1432.5h-0.9ZM514.64 931.3h0.9V1432.5h-0.9ZM517.27 931.3h0.9V1432.5h-0.9ZM519.9 931.3h0.9V1432.5h-0.9ZM522.53 931.3h0.9V1432.5h-0.9ZM525.16 931.3h0.9V1432.5h-0.9ZM527.79 931.3h0.9V1432.5h-0.9ZM530.42 931.3h0.9V1432.5h-0.9ZM533.05 931.3h0.9V1432.5h-0.9ZM535.68 931.3h0.9V1432.5h-0.9ZM538.31 931.3h0.9V1432.5h-0.9ZM540.94 931.3h0.9V1432.5h-0.9ZM543.57 931.3h0.9V1432.5h-0.9ZM546.2 931.3h0.9V1432.5h-0.9ZM548.83 931.3h0.9V1432.5h-0.9ZM551.46 931.3h0.9V1432.5h-0.9ZM554.09 931.3h0.9V1432.5h-0.9ZM556.72 931.3h0.9V1432.5h-0.9ZM559.35 931.3h0.9V1432.5h-0.9ZM561.98 931.3h0.9V1432.5h-0.9ZM564.61 931.3h0.9V1432.5h-0.9ZM567.24 931.3h0.9V1432.5h-0.9ZM569.87 931.3h0.9V1432.5h-0.9ZM572.5 931.3h0.9V1432.5h-0.9ZM575.13 931.3h0.9V1432.5h-0.9ZM577.76 931.3h0.9V1432.5h-0.9ZM580.39 931.3h0.9V1432.5h-0.9ZM583.02 931.3h0.9V1432.5h-0.9ZM585.65 931.3h0.9V1432.5h-0.9ZM588.28 931.3h0.9V1432.5h-0.9ZM590.91 931.3h0.9V1432.5h-0.9ZM593.54 931.3h0.9V1432.5h-0.9ZM596.17 931.3h0.9V1432.5h-0.9ZM598.8 931.3h0.9V1432.5h-0.9ZM601.43 931.3h0.9V1432.5h-0.9ZM604.06 931.3h0.9V1432.5h-0.9ZM606.69 931.3h0.9V1432.5h-0.9ZM609.32 931.3h0.9V1432.5h-0.9ZM611.95 931.3h0.9V1432.5h-0.9ZM614.58 931.3h0.9V1432.5h-0.9ZM617.21 931.3h0.9V1432.5h-0.9ZM619.84 931.3h0.9V1432.5h-0.9ZM622.47 931.3h0.9V1432.5h-0.9ZM625.1 931.3h0.9V1432.5h-0.9ZM627.73 931.3h0.9V1432.5h-0.9ZM630.36 931.3h0.9V1432.5h-0.9ZM632.99 931.3h0.9V1432.5h-0.9ZM635.62 931.3h0.9V1432.5h-0.9ZM638.25 931.3h0.9V1432.5h-0.9ZM640.88 931.3h0.9V1432.5h-0.9ZM643.51 931.3h0.9V1432.5h-0.9ZM646.14 931.3h0.9V1432.5h-0.9ZM648.77 931.3h0.9V1432.5h-0.9ZM651.4 931.3h0.9V1432.5h-0.9ZM654.03 931.3h0.9V1432.5h-0.9ZM656.66 931.3h0.9V1432.5h-0.9ZM659.29 931.3h0.9V1432.5h-0.9ZM661.92 931.3h0.9V1432.5h-0.9ZM664.55 931.3h0.9V1432.5h-0.9ZM667.18 931.3h0.9V1432.5h-0.9ZM669.81 931.3h0.9V1432.5h-0.9ZM672.44 931.3h0.9V1432.5h-0.9ZM675.07 931.3h0.9V1432.5h-0.9ZM677.7 931.3h0.9V1432.5h-0.9ZM680.33 931.3h0.9V1432.5h-0.9ZM682.96 931.3h0.9V1432.5h-0.9ZM685.59 931.3h0.9V1432.5h-0.9ZM688.22 931.3h0.9V1432.5h-0.9ZM690.85 931.3h0.9V1432.5h-0.9ZM693.48 931.3h0.9V1432.5h-0.9ZM696.11 931.3h0.9V1432.5h-0.9ZM698.74 931.3h0.9V1432.5h-0.9ZM701.37 931.3h0.9V1432.5h-0.9ZM704 931.3h0.9V1432.5h-0.9ZM706.63 931.3h0.9V1432.5h-0.9ZM709.26 931.3h0.9V1432.5h-0.9ZM711.89 931.3h0.9V1432.5h-0.9ZM714.52 931.3h0.9V1432.5h-0.9ZM717.15 931.3h0.9V1432.5h-0.9ZM719.78 931.3h0.9V1432.5h-0.9ZM722.41 931.3h0.9V1432.5h-0.9ZM725.04 931.3h0.9V1432.5h-0.9ZM727.67 931.3h0.9V1432.5h-0.9ZM730.3 931.3h0.9V1432.5h-0.9ZM732.93 931.3h0.9V1432.5h-0.9ZM735.56 931.3h0.9V1432.5h-0.9ZM738.19 931.3h0.9V1432.5h-0.9ZM740.82 931.3h0.9V1432.5h-0.9ZM743.45 931.3h0.9V1432.5h-0.9ZM746.08 931.3h0.9V1432.5h-0.9ZM748.71 931.3h0.9V1432.5h-0.9ZM751.34 931.3h0.9V1432.5h-0.9ZM753.97 931.3h0.9V1432.5h-0.9ZM756.6 931.3h0.9V1432.5h-0.9ZM759.23 931.3h0.9V1432.5h-0.9ZM761.86 931.3h0.9V1432.5h-0.9ZM764.49 931.3h0.9V1432.5h-0.9ZM767.12 931.3h0.9V1432.5h-0.9ZM769.75 931.3h0.9V1432.5h-0.9ZM772.38 931.3h0.9V1432.5h-0.9ZM775.01 931.3h0.9V1432.5h-0.9ZM777.64 931.3h0.9V1432.5h-0.9ZM780.27 931.3h0.9V1432.5h-0.9ZM782.9 931.3h0.9V1432.5h-0.9ZM785.53 931.3h0.9V1432.5h-0.9ZM788.16 931.3h0.9V1432.5h-0.9ZM790.79 931.3h0.9V1432.5h-0.9ZM793.42 931.3h0.9V1432.5h-0.9ZM796.05 931.3h0.9V1432.5h-0.9ZM798.68 931.3h0.9V1432.5h-0.9ZM801.31 931.3h0.9V1432.5h-0.9ZM803.94 931.3h0.9V1432.5h-0.9ZM806.57 931.3h0.9V1432.5h-0.9ZM809.2 931.3h0.9V1432.5h-0.9ZM811.83 931.3h0.9V1432.5h-0.9ZM814.46 931.3h0.9V1432.5h-0.9ZM817.09 931.3h0.9V1432.5h-0.9ZM819.72 931.3h0.9V1432.5h-0.9ZM822.35 931.3h0.9V1432.5h-0.9ZM824.98 931.3h0.9V1432.5h-0.9ZM827.61 931.3h0.9V1432.5h-0.9ZM830.24 931.3h0.9V1432.5h-0.9ZM832.87 931.3h0.9V1432.5h-0.9ZM835.5 931.3h0.9V1432.5h-0.9ZM838.13 931.3h0.9V1432.5h-0.9ZM840.76 931.3h0.9V1432.5h-0.9ZM843.39 931.3h0.9V1432.5h-0.9ZM846.02 931.3h0.9V1432.5h-0.9ZM848.65 931.3h0.9V1432.5h-0.9ZM851.28 931.3h0.9V1432.5h-0.9ZM853.91 931.3h0.9V1432.5h-0.9ZM856.54 931.3h0.9V1432.5h-0.9ZM859.17 931.3h0.9V1432.5h-0.9ZM861.8 931.3h0.9V1432.5h-0.9ZM864.43 931.3h0.9V1432.5h-0.9ZM867.06 931.3h0.9V1432.5h-0.9ZM869.69 931.3h0.9V1432.5h-0.9ZM872.32 931.3h0.9V1432.5h-0.9ZM874.95 931.3h0.9V1432.5h-0.9ZM877.58 931.3h0.9V1432.5h-0.9ZM880.21 931.3h0.9V1432.5h-0.9ZM882.84 931.3h0.9V1432.5h-0.9ZM885.47 931.3h0.9V1432.5h-0.9ZM888.1 931.3h0.9V1432.5h-0.9ZM890.73 931.3h0.9V1432.5h-0.9ZM893.36 931.3h0.9V1432.5h-0.9ZM895.99 931.3h0.9V1432.5h-0.9ZM898.62 931.3h0.9V1432.5h-0.9ZM901.25 931.3h0.9V1432.5h-0.9ZM903.88 931.3h0.9V1432.5h-0.9ZM906.51 931.3h0.9V1432.5h-0.9ZM909.14 931.3h0.9V1432.5h-0.9ZM911.77 931.3h0.9V1432.5h-0.9ZM914.4 931.3h0.9V1432.5h-0.9ZM917.03 931.3h0.9V1432.5h-0.9ZM919.66 931.3h0.9V1432.5h-0.9ZM922.29 931.3h0.9V1432.5h-0.9ZM924.92 931.3h0.9V1432.5h-0.9Z"/>
<rect x="100.1" y="971" width="827.2" height="4.8" fill="#f4aa00"/>
<text class="t" x="66.02" y="1639.1" font-size="23.5" textLength="407.97" lengthAdjust="spacingAndGlyphs">c) ND1 Surrounding hydrophobicity, 8</text>
<text class="tk" x="76" y="2326.5" text-anchor="end">−1</text>
<text class="tk" x="77.3" y="2203" text-anchor="end">0</text>
<text class="tk" x="76" y="2079.5" text-anchor="end">1</text>
<text class="tk" x="77.3" y="1956" text-anchor="end">2</text>
<text class="tk" x="77.3" y="1832.5" text-anchor="end">3</text>
<text class="tk" x="77.3" y="1709" text-anchor="end">4</text>
<text class="tk" x="125.1" y="2372.2" text-anchor="middle">0</text>
<text class="tk" x="392.7" y="2372.2" text-anchor="middle">100</text>
<text class="tk" x="658.5" y="2372.2" text-anchor="middle">200</text>
<text class="tk" x="926" y="2372.2" text-anchor="middle">300</text>
<text class="ax" x="279.3" y="2420" font-size="24" textLength="448.12" lengthAdjust="spacingAndGlyphs">Alignment position (Sliding window = 20)</text>
<text class="ax" font-size="24" transform="translate(14.3 1992.86) rotate(-90)" textLength="90.88" lengthAdjust="spacingAndGlyphs">z-scores</text>
<rect x="124.2" y="2193.8" width="810.7" height="1" fill="#f5f7fa"/>
<path fill="#6399c6" d="M123.91 2194.3V1997.6H126.58V1998.7H129.24V2010.4H131.91V2194.3ZM131.91 2194.3V2230H137.25V2229.8H139.92V2230.8H142.58V2229H145.25V2233.2H147.92V2234.9H155.92V2238.7H166.6V2194.3ZM187.94 2194.3V1926.2H190.61V2014H193.28V2003.8H198.61V2043.3H201.28V2028.9H206.62V2030.3H209.28V1957.8H211.95V1956.5H214.62V1985.7H219.96V2008H222.62V2009.4H225.29V2028.9H227.96V2028H230.63V2029.4H233.3V2026.8H235.96V2068H238.63V2057.6H241.3V2194.3ZM241.3 2194.3V2248.6H243.97V2235.3H246.64V2242.9H251.97V2194.3ZM257.31 2194.3V2230.1H262.64V2230.6H265.31V2194.3ZM265.31 2194.3V2022.4H267.98V2056.1H270.65V2057.2H273.32V2046.1H275.98V2048.7H278.65V2070.5H281.32V2096H283.99V2094.9H286.66V2096H289.32V2058.3H294.66V2042H297.33V2042.8H300V1963.7H305.33V1964.4H310.67V1996.9H313.34V1995.8H318.67V2194.3ZM318.67 2194.3V2229.6H321.34V2223H326.68V2230H329.34V2229.1H332.01V2221.7H334.68V2213.9H342.68V2216.7H348.02V2219H364.03V2210.3H366.7V2219H372.03V2229.3H377.37V2232.1H380.04V2221.5H385.37V2223H393.38V2227.4H401.38V2225.8H414.72V2227.1H420.06V2221.1H425.39V2194.3ZM494.76 2194.3V1973.8H497.43V1975H500.1V1962.4H502.76V1963.9H505.43V1965.2H508.1V1960.8H510.77V1921.5H513.44V1931.5H516.1V1930.5H518.77V1916.5H521.44V1900.1H524.11V1877.5H526.78V1874.9H529.44V2001.2H532.11V1937H534.78V1778.5H537.45V1850.8H542.78V1847.5H545.45V1891.2H548.12V2194.3ZM548.12 2194.3V2221.6H550.79V2225.8H566.8V2217.4H582.8V2225.1H590.81V2221H596.14V2225.3H598.81V2218.4H601.48V2220.5H604.15V2194.3ZM660.18 2194.3V2226.7H665.51V2227H668.18V2225.5H670.85V2224.1H673.52V2222H676.18V2220.7H681.52V2218.3H686.86V2216.9H689.52V2218.9H692.19V2216.6H697.53V2218.3H700.2V2224.4H702.86V2223H705.53V2220.9H708.2V2218.9H710.87V2220.7H713.54V2194.3ZM716.2 2194.3V2223H718.87V2224.1H721.54V2239H724.21V2246.1H734.88V2248.8H740.22V2250.6H742.88V2261.2H745.55V2194.3ZM745.55 2194.3V1999.7H748.22V2008.3H750.89V2035.7H753.56V2033.5H756.22V2032.4H758.89V2045H761.56V2047.9H764.23V2035H766.9V2021.6H769.56V2043.9H772.23V2047.9H774.9V2016.4H777.57V1994.2H780.24V2010.5H782.9V2013.1H785.57V2054.2H788.24V2034.2H793.58V2007.1H796.24V1995.3H798.91V2194.3ZM798.91 2194.3V2268.3H801.58V2258.7H804.25V2248.4H806.92V2240.2H812.25V2260.2H817.59V2260.9H822.92V2252.1H825.59V2247.6H830.93V2237.6H833.6V2231.7H838.93V2216.2H852.27V2194.3ZM897.63 2194.3V1904.6H900.3V1906.3H902.96V1907.4H908.3V1844.7H910.97V1927H913.64V1950.5H916.3V1931.1H918.97V1934.7H921.64V1935.4H926.98V1833.4H929.64V1773.8H932.31V1801.9H934.98V2194.3Z"/>
<path fill="#4a80b4" clip-path="url(#pc)" d="M123.46 1771.8h0.9V2270.3h-0.9ZM126.13 1771.8h0.9V2270.3h-0.9ZM128.79 1771.8h0.9V2270.3h-0.9ZM131.46 1771.8h0.9V2270.3h-0.9ZM134.13 1771.8h0.9V2270.3h-0.9ZM136.8 1771.8h0.9V2270.3h-0.9ZM139.47 1771.8h0.9V2270.3h-0.9ZM142.13 1771.8h0.9V2270.3h-0.9ZM144.8 1771.8h0.9V2270.3h-0.9ZM147.47 1771.8h0.9V2270.3h-0.9ZM150.14 1771.8h0.9V2270.3h-0.9ZM152.81 1771.8h0.9V2270.3h-0.9ZM155.47 1771.8h0.9V2270.3h-0.9ZM158.14 1771.8h0.9V2270.3h-0.9ZM160.81 1771.8h0.9V2270.3h-0.9ZM163.48 1771.8h0.9V2270.3h-0.9ZM166.15 1771.8h0.9V2270.3h-0.9ZM168.81 1771.8h0.9V2270.3h-0.9ZM171.48 1771.8h0.9V2270.3h-0.9ZM174.15 1771.8h0.9V2270.3h-0.9ZM176.82 1771.8h0.9V2270.3h-0.9ZM179.49 1771.8h0.9V2270.3h-0.9ZM182.15 1771.8h0.9V2270.3h-0.9ZM184.82 1771.8h0.9V2270.3h-0.9ZM187.49 1771.8h0.9V2270.3h-0.9ZM190.16 1771.8h0.9V2270.3h-0.9ZM192.83 1771.8h0.9V2270.3h-0.9ZM195.49 1771.8h0.9V2270.3h-0.9ZM198.16 1771.8h0.9V2270.3h-0.9ZM200.83 1771.8h0.9V2270.3h-0.9ZM203.5 1771.8h0.9V2270.3h-0.9ZM206.17 1771.8h0.9V2270.3h-0.9ZM208.83 1771.8h0.9V2270.3h-0.9ZM211.5 1771.8h0.9V2270.3h-0.9ZM214.17 1771.8h0.9V2270.3h-0.9ZM216.84 1771.8h0.9V2270.3h-0.9ZM219.51 1771.8h0.9V2270.3h-0.9ZM222.17 1771.8h0.9V2270.3h-0.9ZM224.84 1771.8h0.9V2270.3h-0.9ZM227.51 1771.8h0.9V2270.3h-0.9ZM230.18 1771.8h0.9V2270.3h-0.9ZM232.85 1771.8h0.9V2270.3h-0.9ZM235.51 1771.8h0.9V2270.3h-0.9ZM238.18 1771.8h0.9V2270.3h-0.9ZM240.85 1771.8h0.9V2270.3h-0.9ZM243.52 1771.8h0.9V2270.3h-0.9ZM246.19 1771.8h0.9V2270.3h-0.9ZM248.85 1771.8h0.9V2270.3h-0.9ZM251.52 1771.8h0.9V2270.3h-0.9ZM254.19 1771.8h0.9V2270.3h-0.9ZM256.86 1771.8h0.9V2270.3h-0.9ZM259.53 1771.8h0.9V2270.3h-0.9ZM262.19 1771.8h0.9V2270.3h-0.9ZM264.86 1771.8h0.9V2270.3h-0.9ZM267.53 1771.8h0.9V2270.3h-0.9ZM270.2 1771.8h0.9V2270.3h-0.9ZM272.87 1771.8h0.9V2270.3h-0.9ZM275.53 1771.8h0.9V2270.3h-0.9ZM278.2 1771.8h0.9V2270.3h-0.9ZM280.87 1771.8h0.9V2270.3h-0.9ZM283.54 1771.8h0.9V2270.3h-0.9ZM286.21 1771.8h0.9V2270.3h-0.9ZM288.87 1771.8h0.9V2270.3h-0.9ZM291.54 1771.8h0.9V2270.3h-0.9ZM294.21 1771.8h0.9V2270.3h-0.9ZM296.88 1771.8h0.9V2270.3h-0.9ZM299.55 1771.8h0.9V2270.3h-0.9ZM302.21 1771.8h0.9V2270.3h-0.9ZM304.88 1771.8h0.9V2270.3h-0.9ZM307.55 1771.8h0.9V2270.3h-0.9ZM310.22 1771.8h0.9V2270.3h-0.9ZM312.89 1771.8h0.9V2270.3h-0.9ZM315.55 1771.8h0.9V2270.3h-0.9ZM318.22 1771.8h0.9V2270.3h-0.9ZM320.89 1771.8h0.9V2270.3h-0.9ZM323.56 1771.8h0.9V2270.3h-0.9ZM326.23 1771.8h0.9V2270.3h-0.9ZM328.89 1771.8h0.9V2270.3h-0.9ZM331.56 1771.8h0.9V2270.3h-0.9ZM334.23 1771.8h0.9V2270.3h-0.9ZM336.9 1771.8h0.9V2270.3h-0.9ZM339.57 1771.8h0.9V2270.3h-0.9ZM342.23 1771.8h0.9V2270.3h-0.9ZM344.9 1771.8h0.9V2270.3h-0.9ZM347.57 1771.8h0.9V2270.3h-0.9ZM350.24 1771.8h0.9V2270.3h-0.9ZM352.91 1771.8h0.9V2270.3h-0.9ZM355.57 1771.8h0.9V2270.3h-0.9ZM358.24 1771.8h0.9V2270.3h-0.9ZM360.91 1771.8h0.9V2270.3h-0.9ZM363.58 1771.8h0.9V2270.3h-0.9ZM366.25 1771.8h0.9V2270.3h-0.9ZM368.91 1771.8h0.9V2270.3h-0.9ZM371.58 1771.8h0.9V2270.3h-0.9ZM374.25 1771.8h0.9V2270.3h-0.9ZM376.92 1771.8h0.9V2270.3h-0.9ZM379.59 1771.8h0.9V2270.3h-0.9ZM382.25 1771.8h0.9V2270.3h-0.9ZM384.92 1771.8h0.9V2270.3h-0.9ZM387.59 1771.8h0.9V2270.3h-0.9ZM390.26 1771.8h0.9V2270.3h-0.9ZM392.93 1771.8h0.9V2270.3h-0.9ZM395.59 1771.8h0.9V2270.3h-0.9ZM398.26 1771.8h0.9V2270.3h-0.9ZM400.93 1771.8h0.9V2270.3h-0.9ZM403.6 1771.8h0.9V2270.3h-0.9ZM406.27 1771.8h0.9V2270.3h-0.9ZM408.93 1771.8h0.9V2270.3h-0.9ZM411.6 1771.8h0.9V2270.3h-0.9ZM414.27 1771.8h0.9V2270.3h-0.9ZM416.94 1771.8h0.9V2270.3h-0.9ZM419.61 1771.8h0.9V2270.3h-0.9ZM422.27 1771.8h0.9V2270.3h-0.9ZM424.94 1771.8h0.9V2270.3h-0.9ZM427.61 1771.8h0.9V2270.3h-0.9ZM430.28 1771.8h0.9V2270.3h-0.9ZM432.95 1771.8h0.9V2270.3h-0.9ZM435.61 1771.8h0.9V2270.3h-0.9ZM438.28 1771.8h0.9V2270.3h-0.9ZM440.95 1771.8h0.9V2270.3h-0.9ZM443.62 1771.8h0.9V2270.3h-0.9ZM446.29 1771.8h0.9V2270.3h-0.9ZM448.95 1771.8h0.9V2270.3h-0.9ZM451.62 1771.8h0.9V2270.3h-0.9ZM454.29 1771.8h0.9V2270.3h-0.9ZM456.96 1771.8h0.9V2270.3h-0.9ZM459.63 1771.8h0.9V2270.3h-0.9ZM462.29 1771.8h0.9V2270.3h-0.9ZM464.96 1771.8h0.9V2270.3h-0.9ZM467.63 1771.8h0.9V2270.3h-0.9ZM470.3 1771.8h0.9V2270.3h-0.9ZM472.97 1771.8h0.9V2270.3h-0.9ZM475.63 1771.8h0.9V2270.3h-0.9ZM478.3 1771.8h0.9V2270.3h-0.9ZM480.97 1771.8h0.9V2270.3h-0.9ZM483.64 1771.8h0.9V2270.3h-0.9ZM486.31 1771.8h0.9V2270.3h-0.9ZM488.97 1771.8h0.9V2270.3h-0.9ZM491.64 1771.8h0.9V2270.3h-0.9ZM494.31 1771.8h0.9V2270.3h-0.9ZM496.98 1771.8h0.9V2270.3h-0.9ZM499.65 1771.8h0.9V2270.3h-0.9ZM502.31 1771.8h0.9V2270.3h-0.9ZM504.98 1771.8h0.9V2270.3h-0.9ZM507.65 1771.8h0.9V2270.3h-0.9ZM510.32 1771.8h0.9V2270.3h-0.9ZM512.99 1771.8h0.9V2270.3h-0.9ZM515.65 1771.8h0.9V2270.3h-0.9ZM518.32 1771.8h0.9V2270.3h-0.9ZM520.99 1771.8h0.9V2270.3h-0.9ZM523.66 1771.8h0.9V2270.3h-0.9ZM526.33 1771.8h0.9V2270.3h-0.9ZM528.99 1771.8h0.9V2270.3h-0.9ZM531.66 1771.8h0.9V2270.3h-0.9ZM534.33 1771.8h0.9V2270.3h-0.9ZM537 1771.8h0.9V2270.3h-0.9ZM539.67 1771.8h0.9V2270.3h-0.9ZM542.33 1771.8h0.9V2270.3h-0.9ZM545 1771.8h0.9V2270.3h-0.9ZM547.67 1771.8h0.9V2270.3h-0.9ZM550.34 1771.8h0.9V2270.3h-0.9ZM553.01 1771.8h0.9V2270.3h-0.9ZM555.67 1771.8h0.9V2270.3h-0.9ZM558.34 1771.8h0.9V2270.3h-0.9ZM561.01 1771.8h0.9V2270.3h-0.9ZM563.68 1771.8h0.9V2270.3h-0.9ZM566.35 1771.8h0.9V2270.3h-0.9ZM569.01 1771.8h0.9V2270.3h-0.9ZM571.68 1771.8h0.9V2270.3h-0.9ZM574.35 1771.8h0.9V2270.3h-0.9ZM577.02 1771.8h0.9V2270.3h-0.9ZM579.69 1771.8h0.9V2270.3h-0.9ZM582.35 1771.8h0.9V2270.3h-0.9ZM585.02 1771.8h0.9V2270.3h-0.9ZM587.69 1771.8h0.9V2270.3h-0.9ZM590.36 1771.8h0.9V2270.3h-0.9ZM593.03 1771.8h0.9V2270.3h-0.9ZM595.69 1771.8h0.9V2270.3h-0.9ZM598.36 1771.8h0.9V2270.3h-0.9ZM601.03 1771.8h0.9V2270.3h-0.9ZM603.7 1771.8h0.9V2270.3h-0.9ZM606.37 1771.8h0.9V2270.3h-0.9ZM609.03 1771.8h0.9V2270.3h-0.9ZM611.7 1771.8h0.9V2270.3h-0.9ZM614.37 1771.8h0.9V2270.3h-0.9ZM617.04 1771.8h0.9V2270.3h-0.9ZM619.71 1771.8h0.9V2270.3h-0.9ZM622.37 1771.8h0.9V2270.3h-0.9ZM625.04 1771.8h0.9V2270.3h-0.9ZM627.71 1771.8h0.9V2270.3h-0.9ZM630.38 1771.8h0.9V2270.3h-0.9ZM633.05 1771.8h0.9V2270.3h-0.9ZM635.71 1771.8h0.9V2270.3h-0.9ZM638.38 1771.8h0.9V2270.3h-0.9ZM641.05 1771.8h0.9V2270.3h-0.9ZM643.72 1771.8h0.9V2270.3h-0.9ZM646.39 1771.8h0.9V2270.3h-0.9ZM649.05 1771.8h0.9V2270.3h-0.9ZM651.72 1771.8h0.9V2270.3h-0.9ZM654.39 1771.8h0.9V2270.3h-0.9ZM657.06 1771.8h0.9V2270.3h-0.9ZM659.73 1771.8h0.9V2270.3h-0.9ZM662.39 1771.8h0.9V2270.3h-0.9ZM665.06 1771.8h0.9V2270.3h-0.9ZM667.73 1771.8h0.9V2270.3h-0.9ZM670.4 1771.8h0.9V2270.3h-0.9ZM673.07 1771.8h0.9V2270.3h-0.9ZM675.73 1771.8h0.9V2270.3h-0.9ZM678.4 1771.8h0.9V2270.3h-0.9ZM681.07 1771.8h0.9V2270.3h-0.9ZM683.74 1771.8h0.9V2270.3h-0.9ZM686.41 1771.8h0.9V2270.3h-0.9ZM689.07 1771.8h0.9V2270.3h-0.9ZM691.74 1771.8h0.9V2270.3h-0.9ZM694.41 1771.8h0.9V2270.3h-0.9ZM697.08 1771.8h0.9V2270.3h-0.9ZM699.75 1771.8h0.9V2270.3h-0.9ZM702.41 1771.8h0.9V2270.3h-0.9ZM705.08 1771.8h0.9V2270.3h-0.9ZM707.75 1771.8h0.9V2270.3h-0.9ZM710.42 1771.8h0.9V2270.3h-0.9ZM713.09 1771.8h0.9V2270.3h-0.9ZM715.75 1771.8h0.9V2270.3h-0.9ZM718.42 1771.8h0.9V2270.3h-0.9ZM721.09 1771.8h0.9V2270.3h-0.9ZM723.76 1771.8h0.9V2270.3h-0.9ZM726.43 1771.8h0.9V2270.3h-0.9ZM729.09 1771.8h0.9V2270.3h-0.9ZM731.76 1771.8h0.9V2270.3h-0.9ZM734.43 1771.8h0.9V2270.3h-0.9ZM737.1 1771.8h0.9V2270.3h-0.9ZM739.77 1771.8h0.9V2270.3h-0.9ZM742.43 1771.8h0.9V2270.3h-0.9ZM745.1 1771.8h0.9V2270.3h-0.9ZM747.77 1771.8h0.9V2270.3h-0.9ZM750.44 1771.8h0.9V2270.3h-0.9ZM753.11 1771.8h0.9V2270.3h-0.9ZM755.77 1771.8h0.9V2270.3h-0.9ZM758.44 1771.8h0.9V2270.3h-0.9ZM761.11 1771.8h0.9V2270.3h-0.9ZM763.78 1771.8h0.9V2270.3h-0.9ZM766.45 1771.8h0.9V2270.3h-0.9ZM769.11 1771.8h0.9V2270.3h-0.9ZM771.78 1771.8h0.9V2270.3h-0.9ZM774.45 1771.8h0.9V2270.3h-0.9ZM777.12 1771.8h0.9V2270.3h-0.9ZM779.79 1771.8h0.9V2270.3h-0.9ZM782.45 1771.8h0.9V2270.3h-0.9ZM785.12 1771.8h0.9V2270.3h-0.9ZM787.79 1771.8h0.9V2270.3h-0.9ZM790.46 1771.8h0.9V2270.3h-0.9ZM793.13 1771.8h0.9V2270.3h-0.9ZM795.79 1771.8h0.9V2270.3h-0.9ZM798.46 1771.8h0.9V2270.3h-0.9ZM801.13 1771.8h0.9V2270.3h-0.9ZM803.8 1771.8h0.9V2270.3h-0.9ZM806.47 1771.8h0.9V2270.3h-0.9ZM809.13 1771.8h0.9V2270.3h-0.9ZM811.8 1771.8h0.9V2270.3h-0.9ZM814.47 1771.8h0.9V2270.3h-0.9ZM817.14 1771.8h0.9V2270.3h-0.9ZM819.81 1771.8h0.9V2270.3h-0.9ZM822.47 1771.8h0.9V2270.3h-0.9ZM825.14 1771.8h0.9V2270.3h-0.9ZM827.81 1771.8h0.9V2270.3h-0.9ZM830.48 1771.8h0.9V2270.3h-0.9ZM833.15 1771.8h0.9V2270.3h-0.9ZM835.81 1771.8h0.9V2270.3h-0.9ZM838.48 1771.8h0.9V2270.3h-0.9ZM841.15 1771.8h0.9V2270.3h-0.9ZM843.82 1771.8h0.9V2270.3h-0.9ZM846.49 1771.8h0.9V2270.3h-0.9ZM849.15 1771.8h0.9V2270.3h-0.9ZM851.82 1771.8h0.9V2270.3h-0.9ZM854.49 1771.8h0.9V2270.3h-0.9ZM857.16 1771.8h0.9V2270.3h-0.9ZM859.83 1771.8h0.9V2270.3h-0.9ZM862.49 1771.8h0.9V2270.3h-0.9ZM865.16 1771.8h0.9V2270.3h-0.9ZM867.83 1771.8h0.9V2270.3h-0.9ZM870.5 1771.8h0.9V2270.3h-0.9ZM873.17 1771.8h0.9V2270.3h-0.9ZM875.83 1771.8h0.9V2270.3h-0.9ZM878.5 1771.8h0.9V2270.3h-0.9ZM881.17 1771.8h0.9V2270.3h-0.9ZM883.84 1771.8h0.9V2270.3h-0.9ZM886.51 1771.8h0.9V2270.3h-0.9ZM889.17 1771.8h0.9V2270.3h-0.9ZM891.84 1771.8h0.9V2270.3h-0.9ZM894.51 1771.8h0.9V2270.3h-0.9ZM897.18 1771.8h0.9V2270.3h-0.9ZM899.85 1771.8h0.9V2270.3h-0.9ZM902.51 1771.8h0.9V2270.3h-0.9ZM905.18 1771.8h0.9V2270.3h-0.9ZM907.85 1771.8h0.9V2270.3h-0.9ZM910.52 1771.8h0.9V2270.3h-0.9ZM913.19 1771.8h0.9V2270.3h-0.9ZM915.85 1771.8h0.9V2270.3h-0.9ZM918.52 1771.8h0.9V2270.3h-0.9ZM921.19 1771.8h0.9V2270.3h-0.9ZM923.86 1771.8h0.9V2270.3h-0.9ZM926.53 1771.8h0.9V2270.3h-0.9ZM929.19 1771.8h0.9V2270.3h-0.9ZM931.86 1771.8h0.9V2270.3h-0.9ZM934.53 1771.8h0.9V2270.3h-0.9Z"/>
<rect x="100.1" y="1794.4" width="845.7" height="4.6" fill="#f4aa00"/>
<ellipse cx="312.1" cy="733.2" rx="1.1" ry="1.2" fill="#707070"/>
</svg>
</body></html>
